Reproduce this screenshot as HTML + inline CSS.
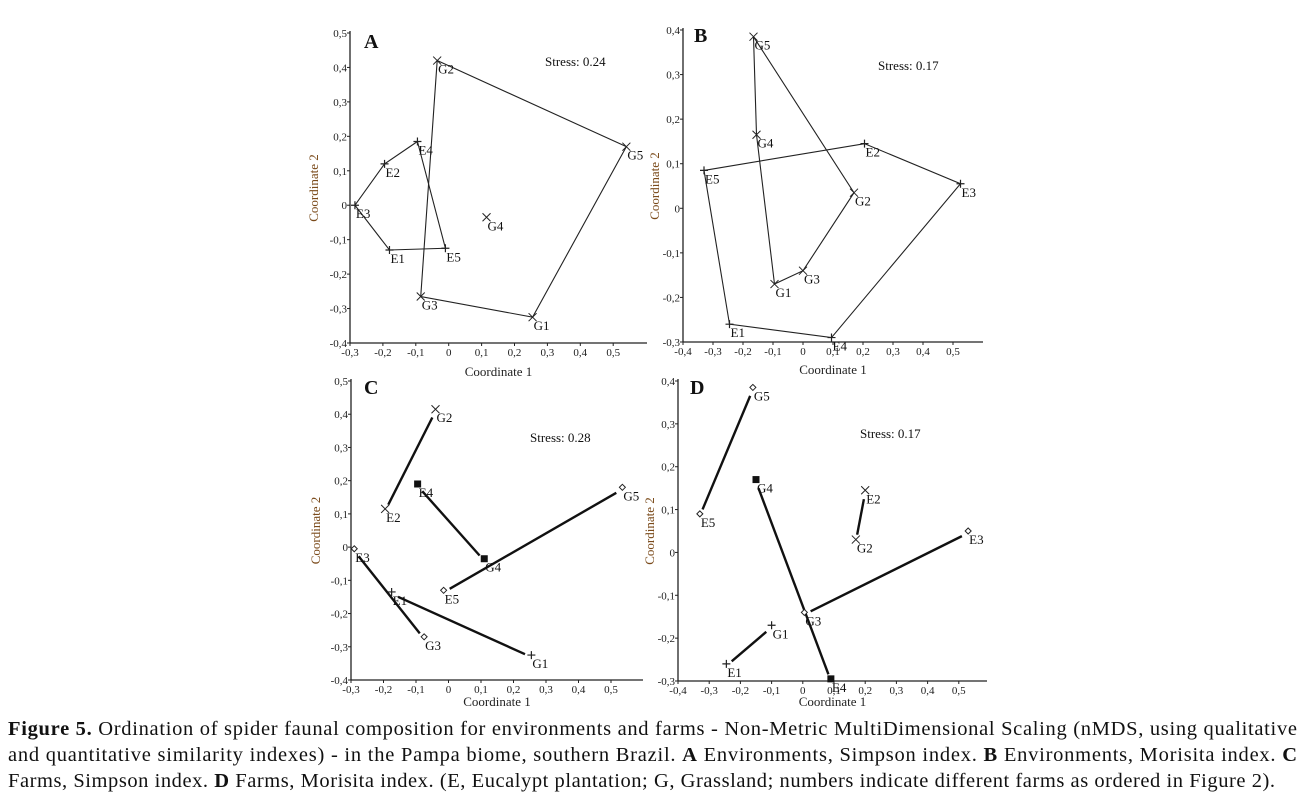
<!DOCTYPE html>
<html><head><meta charset="utf-8"><style>
html,body{margin:0;padding:0;background:#fff;}
svg{display:block;font-family:"Liberation Serif",serif;}
</style></head><body>
<svg id="fig" width="1300" height="809" viewBox="0 0 1300 809" xmlns="http://www.w3.org/2000/svg">
<g id="plots"></g>
<g font-size="20.5" fill="#111">
<text x="8" y="735" textLength="1289" lengthAdjust="spacing"><tspan font-weight="bold">Figure 5.</tspan> Ordination of spider faunal composition for environments and farms - Non-Metric MultiDimensional Scaling (nMDS, using qualitative</text>
<text x="8" y="761" textLength="1289" lengthAdjust="spacing">and quantitative similarity indexes) - in the Pampa biome, southern Brazil. <tspan font-weight="bold">A</tspan> Environments, Simpson index. <tspan font-weight="bold">B</tspan> Environments, Morisita index. <tspan font-weight="bold">C</tspan></text>
<text x="8" y="787" textLength="1267" lengthAdjust="spacing">Farms, Simpson index. <tspan font-weight="bold">D</tspan> Farms, Morisita index. (E, Eucalypt plantation; G, Grassland; numbers indicate different farms as ordered in Figure 2).</text>
</g>
</svg>
<script>
// ---- data ----
const labelsA = ["G2","G5","G1","G3","G4","E4","E2","E3","E1","E5"];
const xA = [-0.035,0.54,0.255,-0.085,0.115,-0.095,-0.195,-0.285,-0.18,-0.01];
const yA = [0.42,0.17,-0.325,-0.265,-0.035,0.185,0.12,0.0,-0.13,-0.125];
const hullGA = ["G2","G5","G1","G3","G2"];
const hullEA = ["E4","E2","E3","E1","E5","E4"];

const labelsB = ["G5","G4","G1","G3","G2","E5","E2","E3","E4","E1"];
const xB = [-0.165,-0.155,-0.095,0.0,0.17,-0.33,0.205,0.525,0.095,-0.245];
const yB = [0.385,0.165,-0.17,-0.14,0.035,0.085,0.145,0.055,-0.29,-0.26];
const hullGB = ["G5","G4","G1","G3","G2","G5"];
const hullEB = ["E5","E2","E3","E4","E1","E5"];

const labelsC = ["G2","E2","E4","G4","G5","E5","E3","G3","E1","G1"];
const xC = [-0.04,-0.195,-0.095,0.11,0.535,-0.015,-0.29,-0.075,-0.175,0.255];
const yC = [0.415,0.115,0.19,-0.035,0.18,-0.13,-0.005,-0.27,-0.135,-0.325];
const pairsC = [["G2","E2"],["E4","G4"],["G5","E5"],["E3","G3"],["E1","G1"]];

const labelsD = ["G5","E5","G4","E4","E2","G2","E3","G3","G1","E1"];
const xD = [-0.16,-0.33,-0.15,0.09,0.2,0.17,0.53,0.005,-0.1,-0.245];
const yD = [0.385,0.09,0.17,-0.295,0.145,0.03,0.05,-0.14,-0.17,-0.26];
const pairsD = [["G5","E5"],["G4","E4"],["E2","G2"],["E3","G3"],["G1","E1"]];

const ticksXA = [-0.3,-0.2,-0.1,0,0.1,0.2,0.3,0.4,0.5];
const ticksYA = [0.5,0.4,0.3,0.2,0.1,0,-0.1,-0.2,-0.3,-0.4];
const ticksXB = [-0.4,-0.3,-0.2,-0.1,0,0.1,0.2,0.3,0.4,0.5];
const ticksYB = [0.4,0.3,0.2,0.1,0,-0.1,-0.2,-0.3];
const stressVals = ["0.24","0.17","0.28","0.17"];

const NS="http://www.w3.org/2000/svg";
const root=document.getElementById('plots');
function mk(tag,attrs,parent){const e=document.createElementNS(NS,tag);for(const k in attrs)e.setAttribute(k,attrs[k]);parent.appendChild(e);return e;}
function fmt(v){if(Math.abs(v)<1e-9)return "0";return v.toFixed(1).replace('.',',');}

function panel(cfg){
  const g=mk('g',{},root);
  
  
  const sx=v=>cfg.x0+(v-cfg.xmin)*cfg.xs*10;
  const sy=v=>cfg.yTop+(cfg.ymax-v)*(cfg.yBot-cfg.yTop)/(cfg.ymax-cfg.ymin);
  const ax=cfg.x0, ay=cfg.yBot;
  const yl=mk('line',{x1:ax,y1:cfg.yTop-2,x2:ax,y2:ay,stroke:'#222','stroke-width':1.3},g);
  
  const xl=mk('line',{x1:ax,y1:ay,x2:cfg.xEnd,y2:ay,stroke:'#222','stroke-width':1.3},g);
  
  cfg.tx.forEach(v=>{const x=sx(v);mk('line',{x1:x,y1:ay,x2:x,y2:ay+3,stroke:'#222'},g);
    const t=mk('text',{x:x,y:ay+13,'font-size':11,'text-anchor':'middle',fill:'#222'},g);t.textContent=fmt(v);
    });
  cfg.ty.forEach(v=>{const y=sy(v);mk('line',{x1:ax-3,y1:y,x2:ax,y2:y,stroke:'#222'},g);
    const t=mk('text',{x:ax-3,y:y+4,'font-size':11,'text-anchor':'end',fill:'#222'},g);t.textContent=fmt(v);
    });
  const xt=mk('text',{x:(ax+cfg.xEnd)/2,y:cfg.xTitleY,'font-size':13,'text-anchor':'middle',fill:'#222'},g);
  xt.textContent='Coordinate 1';
  
  const ytx=cfg.yTitleX, yty=(cfg.yTop+cfg.yBot)/2;
  const yt=mk('text',{x:ytx,y:yty,'font-size':13,'text-anchor':'middle',fill:'#7a4a1a',transform:`rotate(-90 ${ytx} ${yty})`},g);
  yt.textContent='Coordinate 2';
  
  const pl=mk('text',{x:cfg.letterX,y:cfg.letterY,'font-size':20,'font-weight':'bold',fill:'#111'},g);
  pl.textContent=cfg.id;
  
  const st=mk('text',{x:cfg.stressX,y:cfg.stressY,'font-size':13,fill:'#111'},g);
  st.textContent='Stress: '+cfg.stress;
  
  const P=name=>{const i=cfg.labels.indexOf(name);return [sx(cfg.xs_[i]),sy(cfg.ys_[i])];};
  if(cfg.hulls){cfg.hulls.forEach(h=>{const pts=h.map(n=>P(n).join(',')).join(' ');
    const pe=mk('polyline',{points:pts,fill:'none',stroke:'#222','stroke-width':1.1},g);
    });}
  if(cfg.pairs){cfg.pairs.forEach(p=>{const a=P(p[0]),b=P(p[1]);const dx=b[0]-a[0],dy=b[1]-a[1];const L=Math.hypot(dx,dy);const o=7/L;
    const ln=mk('line',{x1:a[0]+dx*o,y1:a[1]+dy*o+2,x2:b[0]-dx*o,y2:b[1]-dy*o+2,stroke:'#111','stroke-width':2.4},g);
    });}
  cfg.labels.forEach((n,i)=>{const x=sx(cfg.xs_[i]),y=sy(cfg.ys_[i]);const m=cfg.marker(n);
    const mg=mk('g',{},g);
    
    if(m==='x'){mk('path',{d:`M${x-4} ${y-4}L${x+4} ${y+4}M${x-4} ${y+4}L${x+4} ${y-4}`,stroke:'#222','stroke-width':1},mg);}
    else if(m==='+'){mk('path',{d:`M${x-4} ${y}L${x+4} ${y}M${x} ${y-4}L${x} ${y+4}`,stroke:'#222','stroke-width':1.2},mg);}
    else if(m==='sq'){mk('rect',{x:x-3.5,y:y-3.5,width:7,height:7,fill:'#111'},mg);}
    else {mk('path',{d:`M${x} ${y-3}L${x+3} ${y}L${x} ${y+3}L${x-3} ${y}Z`,fill:'#fff',stroke:'#222','stroke-width':1},mg);}
    const t=mk('text',{x:x+1,y:y+13,'font-size':13,fill:'#111'},mg);t.textContent=n;});
}
panel({id:'A',labels:labelsA,xs_:xA,ys_:yA,hulls:[hullGA,hullEA],x0:350,xmin:-0.3,xs:32.9,xEnd:647,yTop:33,yBot:343,ymax:0.5,ymin:-0.4,
  tx:ticksXA,ty:ticksYA,xTitleY:376,yTitleX:318,letterX:364,letterY:48,stressX:545,stressY:66,stress:stressVals[0],
  marker:n=>n[0]==='G'?'x':'+'});
panel({id:'B',labels:labelsB,xs_:xB,ys_:yB,hulls:[hullGB,hullEB],x0:683,xmin:-0.4,xs:30,xEnd:983,yTop:30,yBot:342,ymax:0.4,ymin:-0.3,
  tx:ticksXB,ty:ticksYB,xTitleY:374,yTitleX:659,letterX:694,letterY:42,stressX:878,stressY:70,stress:stressVals[1],
  marker:n=>n[0]==='G'?'x':'+'});
const mC={G2:'x',E2:'x',E4:'sq',G4:'sq',G5:'d',E5:'d',E3:'d',G3:'d',E1:'+',G1:'+'};
panel({id:'C',labels:labelsC,xs_:xC,ys_:yC,pairs:pairsC,x0:351,xmin:-0.3,xs:32.5,xEnd:643,yTop:381,yBot:680,ymax:0.5,ymin:-0.4,
  tx:ticksXA,ty:ticksYA,xTitleY:706,yTitleX:320,letterX:364,letterY:394,stressX:530,stressY:442,stress:stressVals[2],
  marker:n=>mC[n]});
const mD={G5:'d',E5:'d',G4:'sq',E4:'sq',E2:'x',G2:'x',E3:'d',G3:'d',G1:'+',E1:'+'};
panel({id:'D',labels:labelsD,xs_:xD,ys_:yD,pairs:pairsD,x0:678,xmin:-0.4,xs:31.2,xEnd:987,yTop:381,yBot:681,ymax:0.4,ymin:-0.3,
  tx:ticksXB,ty:ticksYB,xTitleY:706,yTitleX:654,letterX:690,letterY:394,stressX:860,stressY:438,stress:stressVals[3],
  marker:n=>mD[n]});
</script>
</body></html>
